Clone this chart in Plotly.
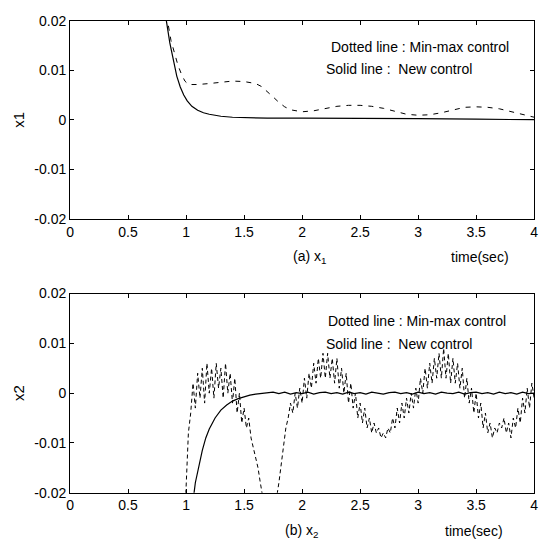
import numpy as np
import plotly.graph_objects as go

W, H = 550, 558

# ---------------- data ----------------
# (a) x1 : solid = New control, dotted = Min-max control
t_x1_solid = [0.80, 0.83, 0.86, 0.89, 0.92, 0.95, 0.98, 1.01, 1.05, 1.10, 1.15,
              1.20, 1.30, 1.40, 1.50, 1.70, 2.00, 2.40, 2.55, 3.00, 3.50, 4.00]
x1_solid = [0.028, 0.020, 0.0155, 0.0118, 0.0088, 0.0066, 0.0050, 0.0038, 0.0027,
            0.0019, 0.0014, 0.0011, 0.0007, 0.0005, 0.0004, 0.0003, 0.0003, 0.0003,
            0.0002, 0.0002, 0.0001, 0.0000]

t_x1_dotted = [0.80, 0.84, 0.87, 0.90, 0.93, 0.96, 0.99, 1.02, 1.10, 1.20, 1.30,
               1.40, 1.50, 1.60, 1.65, 1.70, 1.75, 1.80, 1.85, 1.90, 2.00, 2.10,
               2.20, 2.30, 2.40, 2.50, 2.60, 2.70, 2.80, 2.90, 3.00, 3.10, 3.20,
               3.30, 3.40, 3.50, 3.60, 3.70, 3.80, 3.90, 4.00]
x1_dotted = [0.030, 0.020, 0.0160, 0.0133, 0.0110, 0.0092, 0.0078, 0.0071, 0.0071,
             0.0073, 0.0076, 0.0078, 0.0077, 0.0073, 0.0067, 0.0057, 0.0046, 0.0035,
             0.0026, 0.0020, 0.0016, 0.0018, 0.0023, 0.0027, 0.0029, 0.0029, 0.0027,
             0.0023, 0.0017, 0.0011, 0.0009, 0.0010, 0.0014, 0.0020, 0.0025, 0.0026,
             0.0025, 0.0022, 0.0016, 0.0010, 0.0005]

# (b) x2 : solid = New control
t_x2_solid = [1.03, 1.05, 1.08, 1.11, 1.14, 1.17, 1.20, 1.25, 1.30, 1.35, 1.40,
              1.45, 1.50, 1.55, 1.60, 1.65,
              1.70, 1.75, 1.80, 1.85, 1.90, 1.95, 2.00, 2.05, 2.10, 2.15, 2.20,
              2.25, 2.30, 2.35, 2.40, 2.45, 2.50, 2.55, 2.60, 2.65, 2.70, 2.75,
              2.80, 2.85, 2.90, 2.95, 3.00, 3.05, 3.10, 3.15, 3.20, 3.25, 3.30,
              3.35, 3.40, 3.45, 3.50, 3.55, 3.60, 3.65, 3.70, 3.75, 3.80, 3.85,
              3.90, 3.95, 4.00]
x2_solid = [-0.030, -0.0235, -0.0180, -0.0145, -0.0115, -0.0090, -0.0072, -0.0050,
            -0.0034, -0.0024, -0.0016, -0.0011, -0.0007, -0.0004, -0.0002, -0.0001,
            0.0000, 0.0002, -0.0001, 0.0002, -0.0002, 0.0001, -0.0001, 0.0002,
            -0.0002, 0.0001, 0.0002, -0.0001, 0.0001, -0.0002, 0.0002, -0.0001,
            0.0001, -0.0002, 0.0002, 0.0000, -0.0002, 0.0001, 0.0002, -0.0001,
            0.0001, -0.0002, 0.0002, -0.0001, 0.0001, -0.0002, 0.0002, 0.0000,
            -0.0001, 0.0002, -0.0002, 0.0001, 0.0002, -0.0001, 0.0001, -0.0002,
            0.0002, -0.0001, 0.0001, -0.0002, 0.0002, -0.0001, 0.0000]

# (b) x2 : dotted = Min-max control, sampled every 0.02 s from 0.98 s to 4.00 s
t_x2_dotted = np.round(np.arange(0.98, 4.0001, 0.02), 2)
x2_dotted = [
    -0.030, -0.019, -0.008, -0.004, 0.002, -0.003, 0.004, -0.001, 0.005, -0.002,   # 0.98-1.16
    0.006, 0.000, 0.005, -0.001, 0.006, 0.001, 0.005, -0.001, 0.006, 0.000,        # 1.18-1.36
    0.004, -0.002, 0.003, -0.004, 0.000, -0.006, -0.003, -0.007, -0.005, -0.009,   # 1.38-1.56
    -0.011, -0.013, -0.015, -0.018, -0.021, -0.024, -0.027, -0.029, -0.028, -0.025,  # 1.58-1.76
    -0.021, -0.018, -0.014, -0.011, -0.007, -0.005, -0.002, -0.004, 0.000, -0.003,   # 1.78-1.96
    0.001, -0.002, 0.003, -0.001, 0.004, 0.001, 0.006, 0.002, 0.007, 0.003,       # 1.98-2.16
    0.008, 0.003, 0.008, 0.003, 0.007, 0.002, 0.007, 0.001, 0.005, 0.000,         # 2.18-2.36
    0.004, -0.002, 0.002, -0.003, 0.000, -0.005, -0.002, -0.006, -0.003, -0.007,  # 2.38-2.56
    -0.005, -0.008, -0.006, -0.008, -0.007, -0.009, -0.008, -0.009, -0.007, -0.008,  # 2.58-2.76
    -0.005, -0.007, -0.003, -0.006, -0.002, -0.005, -0.001, -0.004, 0.000, -0.003,   # 2.78-2.96
    0.001, -0.002, 0.003, 0.000, 0.005, 0.001, 0.006, 0.002, 0.007, 0.003,        # 2.98-3.16
    0.008, 0.003, 0.009, 0.003, 0.008, 0.002, 0.007, 0.002, 0.006, 0.001,         # 3.18-3.36
    0.005, -0.001, 0.003, -0.002, 0.001, -0.004, 0.000, -0.005, -0.002, -0.007,   # 3.38-3.56
    -0.004, -0.008, -0.006, -0.009, -0.007, -0.008, -0.006, -0.007, -0.005, -0.008,  # 3.58-3.76
    -0.006, -0.009, -0.005, -0.007, -0.003, -0.006, -0.001, -0.004, 0.001, -0.003,   # 3.78-3.96
    0.002, -0.001,                                                                  # 3.98-4.00
]

x_tick_vals = [0, 0.5, 1, 1.5, 2, 2.5, 3, 3.5, 4]
x_tick_text = ["0", "0.5", "1", "1.5", "2", "2.5", "3", "3.5", "4"]
y_tick_vals = [-0.02, -0.01, 0, 0.01, 0.02]
y_tick_text = ["-0.02", "-0.01", "0", "0.01", "0.02"]

legend_dotted = "Dotted line : Min-max control"
legend_solid = "Solid line :  New control"

# ---------------- figure ----------------
FONT = "Arial, Liberation Sans, sans-serif"
fig = go.Figure()

solid_line = dict(color="black", width=1.2)
dotted_line = dict(color="black", width=1.0, dash="5px,6px")

fig.add_trace(go.Scatter(x=t_x1_dotted, y=x1_dotted, mode="lines", line=dotted_line,
                         xaxis="x", yaxis="y", showlegend=False))
fig.add_trace(go.Scatter(x=t_x1_solid, y=x1_solid, mode="lines", line=solid_line,
                         xaxis="x", yaxis="y", showlegend=False))
fig.add_trace(go.Scatter(x=t_x2_dotted, y=x2_dotted, mode="lines",
                         line=dict(color="black", width=1.0, dash="4px,3px"),
                         xaxis="x2", yaxis="y2", showlegend=False))
fig.add_trace(go.Scatter(x=t_x2_solid, y=x2_solid, mode="lines", line=solid_line,
                         xaxis="x2", yaxis="y2", showlegend=False))

def px_x(p):
    return p / W

def px_y(p):
    return 1 - p / H

xdom = [px_x(67), px_x(538)]
ydom_top = [px_y(217), px_y(13)]
ydom_bot = [px_y(499), px_y(294)]

tfont = dict(family=FONT, size=14, color="black")
axis_common = dict(showline=True, linecolor="black", linewidth=1, mirror="ticks",
                   ticks="inside", ticklen=4, tickcolor="black", showgrid=False,
                   zeroline=False, tickfont=tfont)

fig.update_layout(
    width=W, height=H,
    margin=dict(l=0, r=0, t=0, b=0),
    paper_bgcolor="white", plot_bgcolor="white",
    xaxis=dict(domain=xdom, range=[0, 4], tickvals=x_tick_vals, ticktext=x_tick_text,
               anchor="y", **axis_common),
    yaxis=dict(domain=ydom_top, range=[-0.02, 0.02], tickvals=y_tick_vals,
               ticktext=y_tick_text, anchor="x",
               title=dict(text="x1", font=dict(family=FONT, size=15, color="black"), standoff=6),
               **axis_common),
    xaxis2=dict(domain=xdom, range=[0, 4], tickvals=x_tick_vals, ticktext=x_tick_text,
                anchor="y2", **axis_common),
    yaxis2=dict(domain=ydom_bot, range=[-0.02, 0.02], tickvals=y_tick_vals,
                ticktext=y_tick_text, anchor="x2",
                title=dict(text="x2", font=dict(family=FONT, size=15, color="black"), standoff=6),
                **axis_common),
)

def ann(text, x, y, size=14, angle=0, xanchor="center"):
    fig.add_annotation(text=text, x=px_x(x), y=px_y(y), xref="paper", yref="paper",
                       showarrow=False, xanchor=xanchor, yanchor="middle",
                       textangle=angle, font=dict(family=FONT, size=size, color="black"))

ann("(a) x<sub>1</sub>", 310, 256)
ann("time(sec)", 483, 256)
ann("(b) x<sub>2</sub>", 302, 538)
ann("time(sec)", 477, 538)
ann(legend_dotted, 330, 40, xanchor="left")
ann(legend_solid, 325, 63, xanchor="left")
ann(legend_dotted, 327, 322, xanchor="left")
ann(legend_solid, 325, 346, xanchor="left")

fig.write_html("out.html", config={"responsive": False, "displayModeBar": False},
               post_script="document.body.style.margin='0';document.body.style.padding='0';")
